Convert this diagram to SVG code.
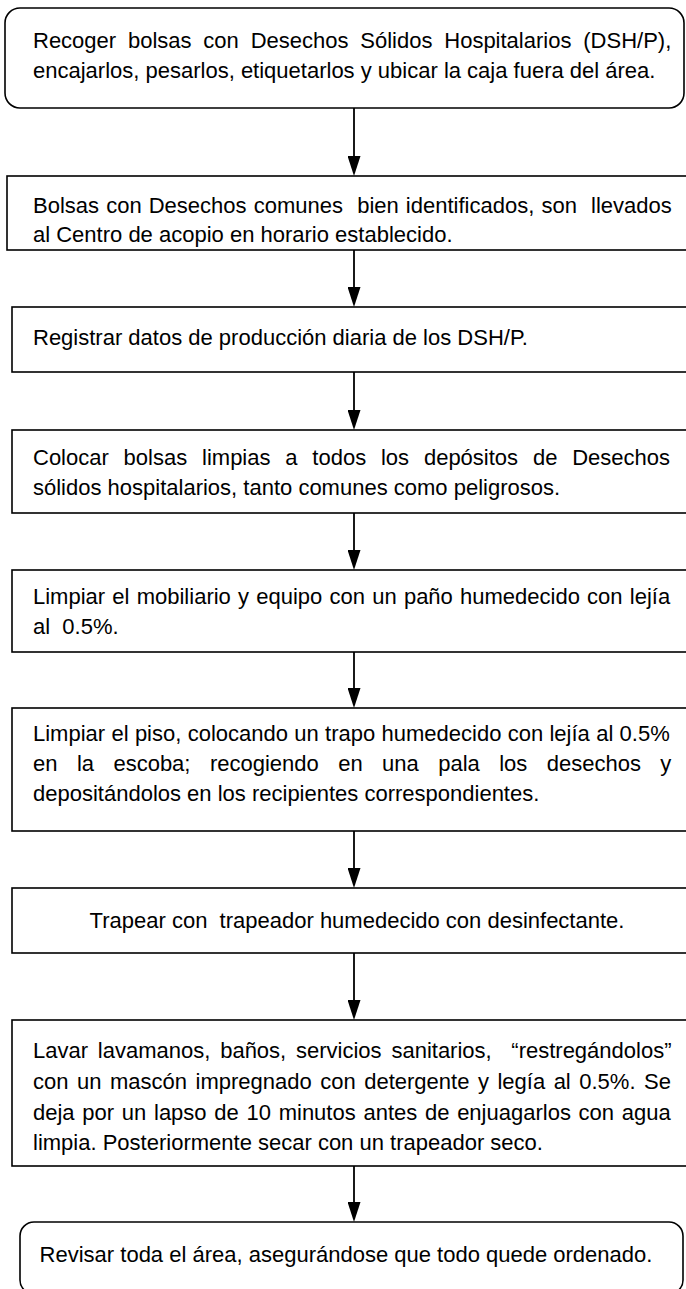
<svg xmlns="http://www.w3.org/2000/svg" width="686" height="1289" viewBox="0 0 686 1289">
<defs>
<style>
.box{fill:#fff;stroke:#000;stroke-width:1.6}
.t{font-family:"Liberation Sans",Arial,sans-serif;font-size:22px;fill:#000}
.c{stroke:#000;stroke-width:1.8;fill:none}
</style>
<marker id="ah" viewBox="0 0 20 13" refX="12" refY="6.5" markerWidth="20" markerHeight="13" markerUnits="userSpaceOnUse" orient="auto">
<path d="M0,0 L20,6.5 L0,13 Z" fill="#000"/>
</marker>
</defs>
<rect width="686" height="1289" fill="#fff"/>
<g id="connectors">
<line class="c" x1="354" y1="108" x2="354" y2="168" marker-end="url(#ah)"/>
<line class="c" x1="354" y1="250" x2="354" y2="299" marker-end="url(#ah)"/>
<line class="c" x1="354" y1="372" x2="354" y2="422" marker-end="url(#ah)"/>
<line class="c" x1="354" y1="513" x2="354" y2="562" marker-end="url(#ah)"/>
<line class="c" x1="354" y1="652" x2="354" y2="700" marker-end="url(#ah)"/>
<line class="c" x1="354" y1="831" x2="354" y2="880" marker-end="url(#ah)"/>
<line class="c" x1="354" y1="953" x2="354" y2="1012" marker-end="url(#ah)"/>
<line class="c" x1="354" y1="1166" x2="354" y2="1214" marker-end="url(#ah)"/>
</g>
<g id="n1">
<rect class="box" x="5" y="8" width="679" height="100" rx="15"/>
<text class="t" x="33" y="48" word-spacing="5.7">Recoger bolsas con Desechos Sólidos Hospitalarios (DSH/P),</text>
<text class="t" x="33" y="78">encajarlos, pesarlos, etiquetarlos y ubicar la caja fuera del área.</text>
</g>
<g id="n2">
<rect class="box" x="7" y="176" width="690" height="74"/>
<text class="t" x="33" y="213" word-spacing="1" xml:space="preserve">Bolsas con Desechos comunes  bien identificados, son  llevados</text>
<text class="t" x="33" y="242">al Centro de acopio en horario establecido.</text>
</g>
<g id="n3">
<rect class="box" x="12" y="307" width="690" height="65"/>
<text class="t" x="33" y="345">Registrar datos de producción diaria de los DSH/P.</text>
</g>
<g id="n4">
<rect class="box" x="12" y="430" width="690" height="83"/>
<text class="t" x="33" y="465" word-spacing="8.7">Colocar bolsas limpias a todos los depósitos de Desechos</text>
<text class="t" x="33" y="495">sólidos hospitalarios, tanto comunes como peligrosos.</text>
</g>
<g id="n5">
<rect class="box" x="12" y="570" width="690" height="82"/>
<text class="t" x="33" y="604" word-spacing="1.1">Limpiar el mobiliario y equipo con un paño humedecido con lejía</text>
<text class="t" x="33" y="634" xml:space="preserve">al  0.5%.</text>
</g>
<g id="n6">
<rect class="box" x="12" y="708" width="690" height="123"/>
<text class="t" x="33" y="741" word-spacing="0.2">Limpiar el piso, colocando un trapo humedecido con lejía al 0.5%</text>
<text class="t" x="33" y="771" word-spacing="13.3">en la escoba; recogiendo en una pala los desechos y</text>
<text class="t" x="33" y="801">depositándolos en los recipientes correspondientes.</text>
</g>
<g id="n7">
<rect class="box" x="12" y="888" width="690" height="65"/>
<text class="t" x="357" y="928" text-anchor="middle" xml:space="preserve">Trapear con  trapeador humedecido con desinfectante.</text>
</g>
<g id="n8">
<rect class="box" x="12" y="1020" width="690" height="146"/>
<text class="t" x="33" y="1058" word-spacing="3.7" xml:space="preserve">Lavar lavamanos, baños, servicios sanitarios,  “restregándolos”</text>
<text class="t" x="33" y="1089" word-spacing="2.4">con un mascón impregnado con detergente y legía al 0.5%. Se</text>
<text class="t" x="33" y="1120" word-spacing="1.6">deja por un lapso de 10 minutos antes de enjuagarlos con agua</text>
<text class="t" x="33" y="1150">limpia. Posteriormente secar con un trapeador seco.</text>
</g>
<g id="n9">
<rect class="box" x="20" y="1222" width="663" height="72" rx="14"/>
<text class="t" x="346" y="1262" text-anchor="middle">Revisar toda el área, asegurándose que todo quede ordenado.</text>
</g>
</svg>
